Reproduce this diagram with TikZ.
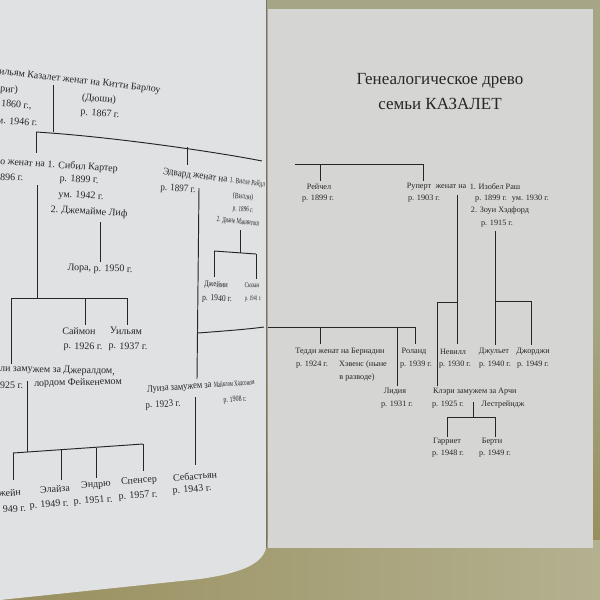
\documentclass[tikz,border=0pt]{standalone}
\usepackage{fontspec}
\usepackage{graphicx}
\setmainfont{Liberation Serif}
\definecolor{ink}{HTML}{262626}
\definecolor{lpage}{HTML}{E0E1E3}
\definecolor{rpage}{HTML}{D5D6D3}
\definecolor{tabletop}{HTML}{A6A687}
\definecolor{tablebot}{HTML}{998F5E}
\definecolor{tablelight}{HTML}{B3B190}
\newcommand{\sq}[2][0.75]{\scalebox{#1}[1]{#2}}
\tikzset{
  lt/.style={font=\fontsize{10}{11}\selectfont, text=ink, inner sep=0pt},
  rt/.style={font=\fontsize{8.2}{9}\selectfont, text=ink, inner sep=0pt},
  ttl/.style={font=\fontsize{17}{19}\selectfont, text=ink, inner sep=0pt},
  ln/.style={draw=ink, line width=0.95pt},
}
\begin{document}
\begin{tikzpicture}[x=1pt,y=-1pt]
\useasboundingbox (0,0) rectangle (600,600);
% background: table and pages
\fill[tabletop] (0,0) rectangle (600,300);
\shade[top color=tabletop, bottom color=tablebot] (0,300) rectangle (600,540);
\shade[left color=tablebot, right color=tablelight] (0,540) rectangle (600,600);
\fill[rpage] (268,9) rectangle (593,548);
\fill[lpage] (0,0) -- (266,0) -- (266,548) .. controls (262,566) and (235,574) .. (200,579) -- (0,600) -- cycle;
\draw[black!55, line width=0.8pt] (266,0) -- (266,548);

% ---------------- left page texts ----------------
\node[lt, anchor=west, rotate=-6.5] (wm) at (-1,72) {ильям Казалет женат на Китти Барлоу};
\node[lt, anchor=west, rotate=-4] (brig) at (0,89.5) {риг)};
\node[lt, anchor=west, rotate=-4] (wmb) at (1,104) {1860 г.,};
\node[lt, anchor=west, rotate=-4] (wmd) at (-3,120) {м. 1946 г.};
\node[lt, rotate=-4] (duchy) at (99,99.5) {(Дюши)};
\node[lt, rotate=-4] (kb) at (100,114) {р. 1867 г.};

\node[lt, anchor=west, rotate=-3.5] (hugh) at (0,162) {о женат на 1. Сибил Картер};
\node[lt, anchor=west, rotate=-2] (hughb) at (0,177) {896 г.};
\node[lt, rotate=-3] (syb) at (79,180) {р. 1899 г.};
\node[lt, rotate=-3] (sybd) at (81,196) {ум. 1942 г.};
\node[lt, rotate=-3] (jem) at (89,212) {2. Джемайме Лиф};
\node[lt, rotate=-2] (lora) at (100,269) {Лора, р. 1950 г.};
\node[lt, rotate=-1] (sim) at (79,331) {Саймон};
\node[lt, rotate=-1] (simb) at (83,347) {р. 1926 г.};
\node[lt, rotate=-1] (wil) at (126,331) {Уильям};
\node[lt, rotate=-1] (wilb) at (128,347) {р. 1937 г.};
\node[lt, anchor=west, rotate=-1.5] (poly) at (0,369) {ли замужем за Джералдом,};
\node[lt, anchor=west] (polyb) at (0,385) {925 г.};
\node[lt, rotate=1] (lord) at (78,383) {лордом Фейкенемом};
\node[lt, anchor=east, rotate=4] (jane) at (21,492) {жейн};
\node[lt, anchor=east, rotate=4] (janeb) at (26,508) {949 г.};
\node[lt, rotate=4] (eliza) at (55,489) {Элайза};
\node[lt, rotate=4] (elizab) at (49,505) {р. 1949 г.};
\node[lt, rotate=4] (andr) at (96,485) {Эндрю};
\node[lt, rotate=4] (andrb) at (93,501) {р. 1951 г.};
\node[lt, rotate=4] (spen) at (139,481) {Спенсер};
\node[lt, rotate=4] (spenb) at (138,496) {р. 1957 г.};

\node[lt, anchor=west, rotate=-7] (edw) at (163,172) {\sq[0.92]{Эдвард женат на} {\fontsize{8}{9}\selectfont\sq[0.68]{1. Вилле Райдл}}};
\node[lt, rotate=-4] (edwb) at (178,189) {\sq[0.9]{р. 1897 г.}};
\node[lt, rotate=-6] (villy) at (243,197) {\fontsize{8}{9}\selectfont\sq{(Вилли)}};
\node[lt, rotate=-5] (villyb) at (243,210) {\fontsize{7.5}{9}\selectfont\sq[0.7]{р. 1896 г.}};
\node[lt, rotate=-6] (diana) at (238,222) {\fontsize{8}{9}\selectfont\sq[0.62]{2. Диане Макинтош}};
\node[lt, rotate=-2] (jamie) at (216,285) {\fontsize{8.5}{9}\selectfont\sq[0.8]{Джейми}};
\node[lt, rotate=-2] (jamieb) at (217,299) {\fontsize{9}{9}\selectfont\sq[0.85]{р. 1940 г.}};
\node[lt, rotate=-3] (susan) at (252,285) {\fontsize{7.5}{9}\selectfont\sq[0.7]{Сюзан}};
\node[lt, rotate=-3] (susanb) at (253,299) {\fontsize{7}{9}\selectfont\sq[0.6]{р. 1941 г.}};
\node[lt, anchor=west, rotate=4] (louise) at (147,390) {\sq[0.85]{Луиза замужем за} {\fontsize{8}{9}\selectfont\sq[0.6]{Майклом Хадсоном}}};
\node[lt, rotate=3] (louiseb) at (163,405) {\sq[0.9]{р. 1923 г.}};
\node[lt, rotate=4] (mich) at (235,400) {\fontsize{8}{9}\selectfont\sq[0.75]{р. 1908 г.}};
\node[lt, rotate=5] (seb) at (195,476) {Себастьян};
\node[lt, rotate=5] (sebb) at (192,490) {р. 1943 г.};

% ---------------- left page lines ----------------
\coordinate (wmA) at (53,85);   \coordinate (wmB) at (53,132);
\coordinate (sibL) at (36,132); \coordinate (sibE) at (187,147); \coordinate (sibR) at (262,161);
\coordinate (hughT) at (36,153);
\coordinate (edwT) at (187,165);
\coordinate (hughA) at (37,185); \coordinate (hughB) at (37,298);
\coordinate (hkL) at (11,298); \coordinate (hkM) at (85,298); \coordinate (hkR) at (127,298);
\coordinate (polyT) at (11,364); \coordinate (simT) at (85,325); \coordinate (wilT) at (127,325);
\coordinate (loraA) at (100,222); \coordinate (loraB) at (100,262);
\coordinate (polyA) at (27.5,381); \coordinate (polyB) at (27.5,452);
\coordinate (pkL) at (13,453); \coordinate (pk2) at (61,450); \coordinate (pk3) at (96,448); \coordinate (pkR) at (143,444);
\coordinate (janeT) at (13,480); \coordinate (elizaT) at (61,480); \coordinate (andrT) at (96,478); \coordinate (spenT) at (143,471);
\coordinate (edwA) at (199,188); \coordinate (edwJ) at (197.6,333); \coordinate (edwB) at (197,379);
\coordinate (gutL) at (264,327);
\coordinate (dianaA) at (240,230); \coordinate (dianaB) at (240,252.5);
\coordinate (dkL) at (214,251); \coordinate (dkR) at (256,254);
\coordinate (jamieT) at (214,277); \coordinate (susanT) at (256,279);
\coordinate (louA) at (195,397); \coordinate (louB) at (195,465);

\draw[ln] (wmA) -- (wmB);
\draw[ln] (sibL) .. controls (116,137) and (222,153) .. (sibR);
\draw[ln] (sibL) -- (hughT);
\draw[ln] (sibE) -- (edwT);
\draw[ln] (hughA) -- (hughB);
\draw[ln] (hkL) -- (hkR);
\draw[ln] (hkL) -- (polyT);
\draw[ln] (hkM) -- (simT);
\draw[ln] (hkR) -- (wilT);
\draw[ln] (loraA) -- (loraB);
\draw[ln] (polyA) -- (polyB);
\draw[ln] (pkL) -- (pkR);
\draw[ln] (pkL) -- (janeT);
\draw[ln] (pk2) -- (elizaT);
\draw[ln] (pk3) -- (andrT);
\draw[ln] (pkR) -- (spenT);
\draw[ln] (edwA) -- (edwB);
\draw[ln] (edwJ) .. controls (225,331) and (250,329) .. (gutL);
\draw[ln] (dianaA) -- (dianaB);
\draw[ln] (dkL) -- (dkR);
\draw[ln] (dkL) -- (jamieT);
\draw[ln] (dkR) -- (susanT);
\draw[ln] (louA) -- (louB);

% ---------------- right page ----------------
\node[ttl] (t1) at (440,81) {Генеалогическое древо};
\node[ttl] (t2) at (440,104) {семьи КАЗАЛЕТ};

\node[rt] (rach) at (319,187) {Рейчел};
\node[rt] (rachb) at (318,199) {р. 1899 г.};
\node[rt] (rup) at (419,187) {Руперт};
\node[rt] (rupb) at (424,199) {р. 1903 г.};
\node[rt] (zhen) at (451,187) {женат на};
\node[rt] (isob) at (495,187) {1. Изобел Раш};
\node[rt] (isobb) at (512,199) {р. 1899 г.\hspace{0.6em}ум. 1930 г.};
\node[rt] (zoe) at (500,211) {2. Зоуи Хэдфорд};
\node[rt] (zoeb) at (497,224) {р. 1915 г.};

\node[rt] (ted) at (340,352) {Тедди женат на Бернадин};
\node[rt] (tedb) at (312,365) {р. 1924 г.};
\node[rt] (hav) at (363,365) {Хэвенс (ныне};
\node[rt] (div) at (357,378) {в разводе)};
\node[rt] (rol) at (414,352) {Роланд};
\node[rt] (rolb) at (416,365) {р. 1939 г.};
\node[rt] (lyd) at (395,392) {Лидия};
\node[rt] (lydb) at (397,405) {р. 1931 г.};
\node[rt] (nev) at (453,352) {Невилл};
\node[rt] (nevb) at (455,365) {р. 1930 г.};
\node[rt] (jul) at (494,352) {Джульет};
\node[rt] (julb) at (495,365) {р. 1940 г.};
\node[rt] (geo) at (533,352) {Джорджи};
\node[rt] (geob) at (533,365) {р. 1949 г.};
\node[rt, anchor=west] (clary) at (433,392) {Клэри замужем за Арчи};
\node[rt] (claryb) at (448,405) {р. 1925 г.};
\node[rt] (lest) at (503,405) {Лестрейндж};
\node[rt] (har) at (447,442) {Гарриет};
\node[rt] (harb) at (448,454) {р. 1948 г.};
\node[rt] (ber) at (492,442) {Берти};
\node[rt] (berb) at (495,454) {р. 1949 г.};

\coordinate (topL) at (295,164); \coordinate (topM) at (320,164); \coordinate (topR) at (423,164);
\coordinate (rachT) at (320,181); \coordinate (rupT) at (423,181);
\coordinate (rupA) at (457,195); \coordinate (rupJ) at (457,302); \coordinate (rupB) at (457,344);
\coordinate (clJ) at (437.5,302); \coordinate (clB) at (437.5,386);
\coordinate (zoeA) at (495,231); \coordinate (zoeJ) at (495,301); \coordinate (zoeB) at (495,345);
\coordinate (geoJ) at (531,301); \coordinate (geoT) at (531,345);
\coordinate (gutR) at (268,327); \coordinate (tedJ) at (320,327); \coordinate (lydJ) at (397,327); \coordinate (rolJ) at (415,327);
\coordinate (tedT) at (320,344); \coordinate (lydT) at (397,386); \coordinate (rolT) at (415,344);
\coordinate (clA) at (473,402); \coordinate (clC) at (473,417);
\coordinate (ckL) at (447,417); \coordinate (ckR) at (495,417);
\coordinate (harT) at (447,437); \coordinate (berT) at (495,437);

\draw[ln] (topL) -- (topR);
\draw[ln] (topM) -- (rachT);
\draw[ln] (topR) -- (rupT);
\draw[ln] (rupA) -- (rupB);
\draw[ln] (clJ) -- (rupJ);
\draw[ln] (clJ) -- (clB);
\draw[ln] (zoeA) -- (zoeB);
\draw[ln] (zoeJ) -- (geoJ);
\draw[ln] (geoJ) -- (geoT);
\draw[ln] (gutR) -- (rolJ);
\draw[ln] (tedJ) -- (tedT);
\draw[ln] (lydJ) -- (lydT);
\draw[ln] (rolJ) -- (rolT);
\draw[ln] (clA) -- (clC);
\draw[ln] (ckL) -- (ckR);
\draw[ln] (ckL) -- (harT);
\draw[ln] (ckR) -- (berT);
\end{tikzpicture}
\end{document}
